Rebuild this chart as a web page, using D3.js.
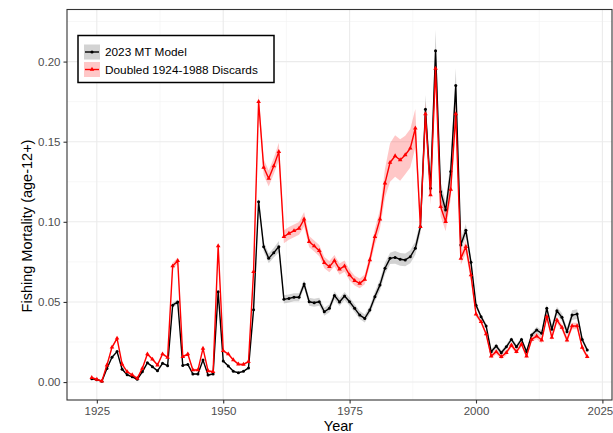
<!DOCTYPE html>
<html>
<head>
<meta charset="utf-8">
<script src="https://cdn.jsdelivr.net/npm/d3@7"></script>
<style>
  html, body { margin: 0; padding: 0; background: #ffffff; }
  svg { display: block; font-family: "Liberation Sans", Arial, sans-serif; }
</style>
</head>
<body>
<svg id="chart" width="613" height="433"></svg>
<script>
// Fishing mortality (age-12+) by year, two model runs with 95% intervals
const years = d3.range(1924, 2023);

const modelF = [
  0.0020, 0.0015, 0.0005, 0.0085, 0.0155, 0.0190, 0.0080, 0.0045, 0.0033, 0.0017,
  0.0064, 0.0120, 0.0096, 0.0070, 0.0117, 0.0102, 0.0480, 0.0500, 0.0104, 0.0110,
  0.0050, 0.0050, 0.0137, 0.0044, 0.0050, 0.0564, 0.0132, 0.0100, 0.0067, 0.0058,
  0.0067, 0.0088, 0.0452, 0.1125, 0.0845, 0.0772, 0.0807, 0.0845, 0.0516, 0.0522,
  0.0529, 0.0529, 0.0612, 0.0501, 0.0495, 0.0501, 0.0439, 0.0460, 0.0540, 0.0500,
  0.0537, 0.0501, 0.0460, 0.0418, 0.0397, 0.0449, 0.0533, 0.0605, 0.0710, 0.0772,
  0.0778, 0.0766, 0.0762, 0.0782, 0.0835, 0.0969, 0.1702, 0.1209, 0.2068, 0.1188,
  0.1074, 0.1314, 0.1850, 0.0855, 0.0947, 0.0748, 0.0480, 0.0408, 0.0350, 0.0189,
  0.0225, 0.0183, 0.0220, 0.0266, 0.0220, 0.0266, 0.0189, 0.0293, 0.0325, 0.0304,
  0.0460, 0.0329, 0.0445, 0.0404, 0.0314, 0.0418, 0.0424, 0.0266, 0.0200
];

const modelHalfCI = [
  0.0005, 0.0005, 0.0005, 0.0005, 0.0006, 0.0007, 0.0005, 0.0005, 0.0005, 0.0005,
  0.0005, 0.0005, 0.0005, 0.0005, 0.0005, 0.0005, 0.0015, 0.0015, 0.0005, 0.0005,
  0.0005, 0.0005, 0.0005, 0.0005, 0.0005, 0.0015, 0.0005, 0.0005, 0.0005, 0.0005,
  0.0005, 0.0005, 0.0020, 0.0030, 0.0030, 0.0030, 0.0030, 0.0035, 0.0025, 0.0025,
  0.0025, 0.0025, 0.0025, 0.0025, 0.0025, 0.0025, 0.0025, 0.0025, 0.0025, 0.0025,
  0.0025, 0.0025, 0.0025, 0.0025, 0.0025, 0.0025, 0.0030, 0.0035, 0.0035, 0.0035,
  0.0040, 0.0040, 0.0040, 0.0040, 0.0040, 0.0040, 0.0090, 0.0060, 0.0130, 0.0060,
  0.0050, 0.0070, 0.0110, 0.0040, 0.0040, 0.0030, 0.0015, 0.0015, 0.0015, 0.0015,
  0.0015, 0.0015, 0.0015, 0.0015, 0.0015, 0.0015, 0.0015, 0.0015, 0.0020, 0.0020,
  0.0025, 0.0025, 0.0025, 0.0025, 0.0025, 0.0030, 0.0030, 0.0015, 0.0015
];

const discardsF = [
  0.0027, 0.0016, 0.0006, 0.0106, 0.0217, 0.0273, 0.0112, 0.0064, 0.0044, 0.0023,
  0.0085, 0.0175, 0.0142, 0.0106, 0.0175, 0.0154, 0.0724, 0.0757, 0.0158, 0.0175,
  0.0075, 0.0075, 0.0210, 0.0070, 0.0064, 0.0850, 0.0195, 0.0175, 0.0138, 0.0112,
  0.0110, 0.0127, 0.0689, 0.1750, 0.1340, 0.1270, 0.1348, 0.1438, 0.0907, 0.0928,
  0.0944, 0.0959, 0.1016, 0.0876, 0.0849, 0.0820, 0.0745, 0.0720, 0.0758, 0.0705,
  0.0724, 0.0668, 0.0633, 0.0616, 0.0641, 0.0762, 0.0907, 0.1016, 0.1241, 0.1370,
  0.1411, 0.1386, 0.1417, 0.1459, 0.1584, 0.0969, 0.1673, 0.1167, 0.1957, 0.1094,
  0.1001, 0.1202, 0.1673, 0.0772, 0.0845, 0.0668, 0.0424, 0.0376, 0.0300, 0.0162,
  0.0189, 0.0158, 0.0183, 0.0231, 0.0189, 0.0237, 0.0162, 0.0266, 0.0287, 0.0262,
  0.0408, 0.0279, 0.0387, 0.0341, 0.0262, 0.0350, 0.0350, 0.0216, 0.0158
];

const discardsHalfCI = [
  0.0008, 0.0008, 0.0008, 0.0008, 0.0009, 0.0010, 0.0008, 0.0008, 0.0008, 0.0008,
  0.0008, 0.0008, 0.0008, 0.0008, 0.0008, 0.0008, 0.0020, 0.0020, 0.0008, 0.0008,
  0.0008, 0.0008, 0.0008, 0.0008, 0.0008, 0.0020, 0.0008, 0.0008, 0.0008, 0.0008,
  0.0008, 0.0008, 0.0030, 0.0050, 0.0050, 0.0050, 0.0050, 0.0055, 0.0040, 0.0040,
  0.0040, 0.0040, 0.0045, 0.0035, 0.0035, 0.0035, 0.0035, 0.0035, 0.0035, 0.0035,
  0.0035, 0.0035, 0.0030, 0.0030, 0.0030, 0.0035, 0.0050, 0.0060, 0.0090, 0.0120,
  0.0130, 0.0130, 0.0120, 0.0120, 0.0120, 0.0040, 0.0080, 0.0060, 0.0090, 0.0060,
  0.0060, 0.0060, 0.0090, 0.0040, 0.0040, 0.0040, 0.0015, 0.0015, 0.0015, 0.0015,
  0.0015, 0.0015, 0.0015, 0.0015, 0.0015, 0.0015, 0.0015, 0.0015, 0.0020, 0.0020,
  0.0020, 0.0020, 0.0020, 0.0020, 0.0020, 0.0020, 0.0020, 0.0015, 0.0015
];

const seriesNames = ["2023 MT Model", "Doubled 1924-1988 Discards"];
const seriesColors = ["#000000", "#ff0000"];
const ribbonColors = ["#9e9e9e", "#ff0000"];
const ribbonOpacity = [0.45, 0.22];

const xTicks = [1925, 1950, 1975, 2000, 2025];
const xMinor = [1937.5, 1962.5, 1987.5, 2012.5];
const yTicks = [0, 0.05, 0.10, 0.15, 0.20];
const yMinor = [0.025, 0.075, 0.125, 0.175, 0.225];

const series = [
  { name: seriesNames[0], value: modelF, half: modelHalfCI },
  { name: seriesNames[1], value: discardsF, half: discardsHalfCI }
].map((s, i) => ({
  ...s,
  color: seriesColors[i],
  fill: ribbonColors[i],
  fillOpacity: ribbonOpacity[i],
  points: years.map((yr, j) => ({
    year: yr,
    v: s.value[j],
    lo: Math.max(0, s.value[j] - s.half[j]),
    hi: s.value[j] + s.half[j]
  }))
}));

const svg = d3.select("#chart");
const panel = { left: 67, right: 612, top: 9.5, bottom: 400 };

const x = d3.scaleLinear().domain([1919.1, 2026.9]).range([panel.left, panel.right]);
const y = d3.scaleLinear().domain([-0.0112, 0.2325]).range([panel.bottom, panel.top]);

// grid
const grid = svg.append("g");
grid.selectAll(".xminor").data(xMinor).join("line")
  .attr("x1", d => x(d)).attr("x2", d => x(d))
  .attr("y1", panel.top).attr("y2", panel.bottom)
  .attr("stroke", "#f2f2f2").attr("stroke-width", 0.6);
grid.selectAll(".yminor").data(yMinor).join("line")
  .attr("x1", panel.left).attr("x2", panel.right)
  .attr("y1", d => y(d)).attr("y2", d => y(d))
  .attr("stroke", "#f2f2f2").attr("stroke-width", 0.6);
grid.selectAll(".xmajor").data(xTicks).join("line")
  .attr("x1", d => x(d)).attr("x2", d => x(d))
  .attr("y1", panel.top).attr("y2", panel.bottom)
  .attr("stroke", "#ebebeb").attr("stroke-width", 1.1);
grid.selectAll(".ymajor").data(yTicks).join("line")
  .attr("x1", panel.left).attr("x2", panel.right)
  .attr("y1", d => y(d)).attr("y2", d => y(d))
  .attr("stroke", "#ebebeb").attr("stroke-width", 1.1);

// ribbons
const area = d3.area().x(d => x(d.year)).y0(d => y(d.lo)).y1(d => y(d.hi));
const line = d3.line().x(d => x(d.year)).y(d => y(d.v));

series.forEach(s => {
  svg.append("path").datum(s.points)
    .attr("d", area)
    .attr("fill", s.fill)
    .attr("fill-opacity", s.fillOpacity);
});

// lines and markers
const triangle = d3.symbol().type(d3.symbolTriangle).size(9);
series.forEach((s, i) => {
  svg.append("path").datum(s.points)
    .attr("d", line)
    .attr("fill", "none")
    .attr("stroke", s.color)
    .attr("stroke-width", 1.4)
    .attr("stroke-linejoin", "round");
  if (i === 0) {
    svg.append("g").selectAll("circle").data(s.points).join("circle")
      .attr("cx", d => x(d.year)).attr("cy", d => y(d.v))
      .attr("r", 1.5).attr("fill", s.color);
  } else {
    svg.append("g").selectAll("path").data(s.points).join("path")
      .attr("d", triangle)
      .attr("transform", d => `translate(${x(d.year)},${y(d.v)})`)
      .attr("fill", s.color);
  }
});

// panel border
svg.append("rect")
  .attr("x", panel.left).attr("y", panel.top)
  .attr("width", panel.right - panel.left).attr("height", panel.bottom - panel.top)
  .attr("fill", "none").attr("stroke", "#333333").attr("stroke-width", 1.1);

// axes
const xAxis = svg.append("g")
  .attr("transform", `translate(0,${panel.bottom})`)
  .call(d3.axisBottom(x).tickValues(xTicks).tickFormat(d3.format("d")).tickSize(3.5).tickPadding(3));
const yAxis = svg.append("g")
  .attr("transform", `translate(${panel.left},0)`)
  .call(d3.axisLeft(y).tickValues(yTicks).tickFormat(d3.format(".2f")).tickSize(3.5).tickPadding(3));
[xAxis, yAxis].forEach(ax => {
  ax.select(".domain").remove();
  ax.selectAll(".tick line").attr("stroke", "#333333").attr("stroke-width", 1.1);
  ax.selectAll(".tick text")
    .attr("fill", "#4d4d4d")
    .style("font-size", "11.5px")
    .style("font-family", "'Liberation Sans', Arial, sans-serif");
});
// keep the last year label inside the drawing area
xAxis.selectAll(".tick text").filter(d => d === 2025).attr("dx", -2.5);

// axis titles
svg.append("text")
  .attr("x", (panel.left + panel.right) / 2 - 1).attr("y", 431)
  .attr("text-anchor", "middle")
  .style("font-size", "14.5px").attr("fill", "#000")
  .text("Year");
svg.append("text")
  .attr("transform", "translate(32,226) rotate(-90)")
  .attr("text-anchor", "middle")
  .style("font-size", "14.5px").attr("fill", "#000")
  .text("Fishing Mortality (age-12+)");

// legend
const legend = svg.append("g");
legend.append("rect")
  .attr("x", 78).attr("y", 35.5).attr("width", 196).attr("height", 47)
  .attr("fill", "#ffffff").attr("stroke", "#000000").attr("stroke-width", 1.5);
series.forEach((s, i) => {
  const cy = 52 + i * 17.5;
  const g = legend.append("g");
  g.append("rect")
    .attr("x", 84).attr("y", cy - 7.5).attr("width", 16).attr("height", 15)
    .attr("fill", s.fill).attr("fill-opacity", s.fillOpacity);
  g.append("line")
    .attr("x1", 85).attr("x2", 99).attr("y1", cy).attr("y2", cy)
    .attr("stroke", s.color).attr("stroke-width", 1.4);
  if (i === 0) {
    g.append("circle").attr("cx", 92).attr("cy", cy).attr("r", 1.6).attr("fill", s.color);
  } else {
    g.append("path").attr("d", triangle).attr("transform", `translate(92,${cy})`).attr("fill", s.color);
  }
  g.append("text")
    .attr("x", 105).attr("y", cy + 4.2)
    .style("font-size", "11.8px").attr("fill", "#000")
    .text(s.name);
});
</script>
</body>
</html>
